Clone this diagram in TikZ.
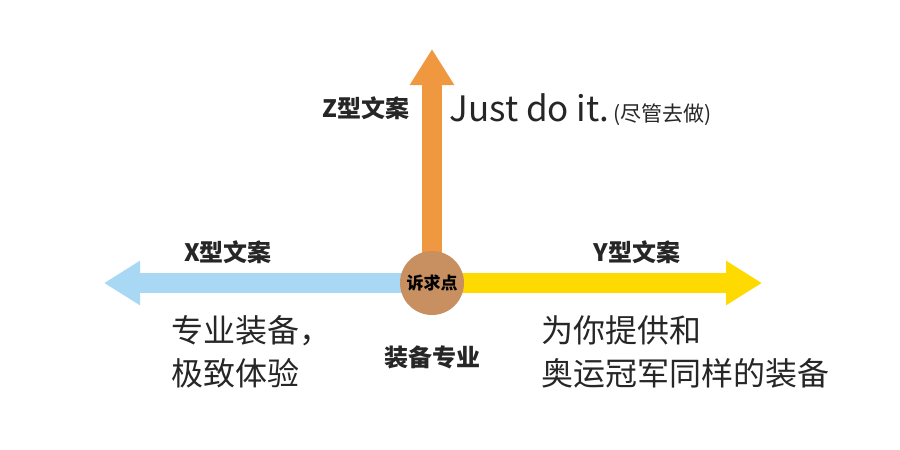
\documentclass[tikz,border=0pt]{standalone}
\usepackage{fontspec}
\setmainfont{Noto Sans CJK SC}
\usetikzlibrary{arrows.meta,positioning}
\definecolor{xblue}{RGB}{168,216,244}
\definecolor{yyellow}{RGB}{255,218,0}
\definecolor{zorange}{RGB}{240,152,64}
\definecolor{pointbrown}{RGB}{200,144,96}
\tikzset{
        % Axis arrows
        axis/.style={line width=20pt, -{Triangle[length=36pt,width=42pt]}},
        % Bold axis labels
        axislabel/.style={font=\bfseries\fontsize{24}{28}\selectfont, text=black!85},
        % Plain copy text
        copytext/.style={font=\fontsize{32}{43}\selectfont, text=black!85, align=left}
}
\begin{document}
\begin{tikzpicture}[x=1pt,y=-1pt]
    \useasboundingbox (0,0) rectangle (900,450);
    \coordinate (center) at (432,283);
    \coordinate (xend) at (104,283);
    \coordinate (yend) at (762,283);
    \coordinate (zend) at (432,49);
    \draw[axis, xblue] (center) -- (xend);
    \draw[axis, yyellow] (center) -- (yend);
    \draw[axis, zorange] (center) -- (zend);
    \node[circle, fill=pointbrown, minimum size=64pt, inner sep=0pt,
          font=\bfseries\fontsize{17}{20}\selectfont] (point) at (center) {诉求点};
    % Labels
    \node[axislabel] (zlabel) at (366,108) {Z型文案};
    \node[axislabel] (xlabel) at (228,252) {X型文案};
    \node[axislabel] (ylabel) at (637,252) {Y型文案};
    \node[axislabel] (core) at (432,357) {装备专业};
    \node[font=\fontsize{35}{38}\selectfont, text=black!85, anchor=west] (slogan) at (446,108) {Just do it.};
    \node[font=\fontsize{21}{24}\selectfont, text=black!85, anchor=base west, inner sep=0pt] (trans) at (slogan.base east) {(尽管去做)};
    \node[copytext, anchor=north west] (xcopy) at (168,312) {专业装备，\\极致体验};
    \node[copytext, anchor=north west] (ycopy) at (538,312) {为你提供和\\奥运冠军同样的装备};
\end{tikzpicture}
\end{document}
